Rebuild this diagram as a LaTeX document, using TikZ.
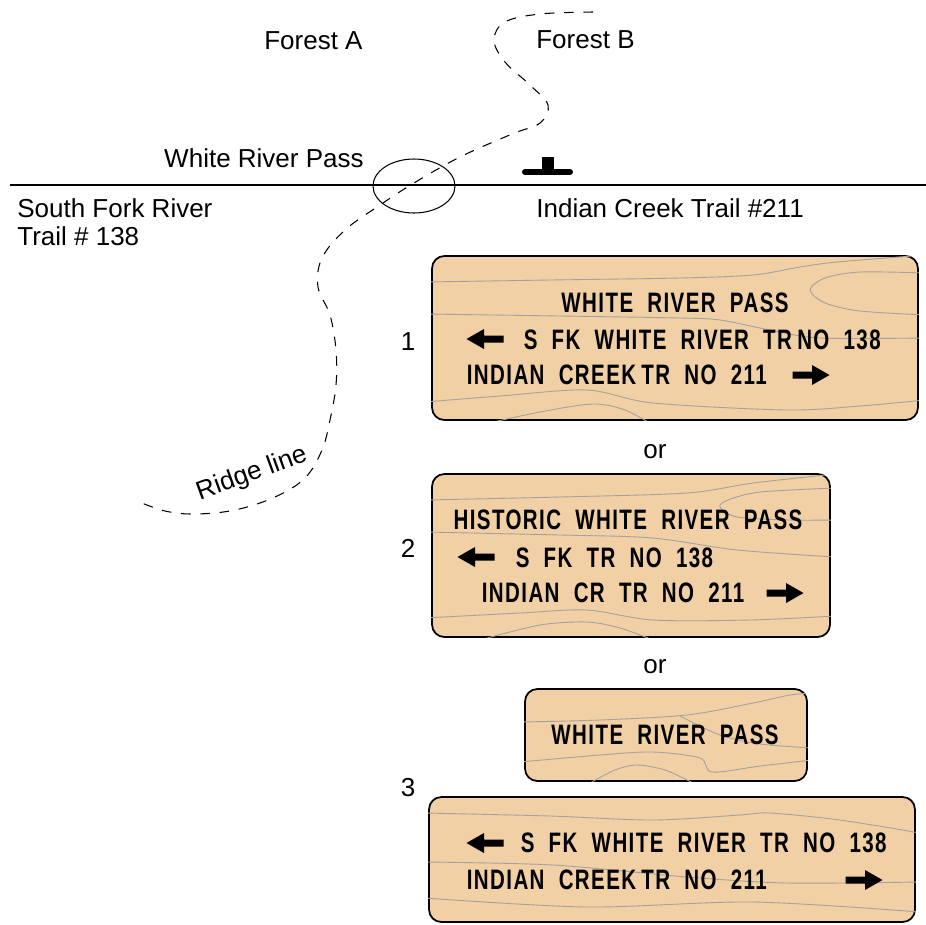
\documentclass[tikz,border=0pt]{standalone}
\usepackage{fontspec}
\setmainfont{Liberation Sans}
\newfontfamily\signfont{Liberation Sans}[FakeStretch=0.73,LetterSpace=5,WordSpace=2]
\usetikzlibrary{shapes.geometric}
\definecolor{signwood}{RGB}{240,208,164}
\definecolor{woodgrain}{RGB}{166,160,158}
\tikzset{
    maplabel/.style = {font=\fontsize{14.8}{16}\selectfont, inner sep=0pt},
    ridge/.style = {dash pattern=on 5.5pt off 5.5pt, line width=0.6pt},
    signboard/.style = {draw, line width=1pt, fill=signwood, rounded corners=7pt, inner sep=0pt},
    grain/.style = {draw=woodgrain, line width=0.5pt},
    signtext/.style = {font=\signfont\bfseries\fontsize{16}{18}\selectfont, inner sep=0pt},
    pics/signarrow/.style = {code={
        \fill (-18.5,-3.5) -- (1,-3.5) -- (1,-10) -- (18.5,0) -- (1,10) -- (1,3.5) -- (-18.5,3.5) -- cycle;}},
}

\begin{document}
\begin{tikzpicture}[x=0.02cm, y=-0.02cm]
\useasboundingbox (0,0) rectangle (926,924);

% trail, pass and ridge
\coordinate (trailW) at (10,185);
\coordinate (trailE) at (926,185);
\draw[line width=1.4pt] (trailW) -- (trailE);
\node[draw, ellipse, line width=0.6pt, inner sep=0pt, minimum width=1.64cm, minimum height=1.08cm] (pass) at (414,186) {};
\fill (542,157) rectangle (554,171);
\draw[line width=3.4pt, line cap=round] (525,172) -- (570,172);
\draw[ridge] plot[smooth, tension=0.6] coordinates {(593,12) (540,14) (505,22) (494,40) (505,62) (530,85) (548,105) (540,123) (512,134) (460,157) (414,183) (380,205) (345,230) (322,258) (318,287) (330,315) (336,350) (336,385) (330,420) (322,450) (305,478) (275,497) (235,510) (195,514) (165,511) (137,501)};

\node[maplabel, anchor=base west] (forestA) at (264,49) {Forest A};
\node[maplabel, anchor=base west] (forestB) at (536,48) {Forest B};
\node[maplabel, anchor=base east] (passname) at (364,167) {White River Pass};
\node[maplabel, anchor=north west, align=left] (southfork) at (17,198.5) {South Fork River\\Trail \# 138};
\node[maplabel, anchor=base west] (indiancreek) at (536,217) {Indian Creek Trail \#211};
\node[maplabel, rotate=20] (ridgename) at (252,474) {Ridge line};

% sign 1
\node[signboard, minimum width=9.72cm, minimum height=3.28cm] (sign1) at (675,338) {};
\begin{scope}
    \clip[rounded corners=7pt] (sign1.south west) rectangle (sign1.north east);
    \draw[grain] plot[smooth] coordinates {(425,282) (550,280) (680,278) (753,275) (800,267) (837,262) (925,255)};
    \draw[grain] plot[smooth] coordinates {(425,314) (560,316) (680,318) (720,320) (770,330) (820,338) (925,338)};
    \draw[grain] plot[smooth] coordinates {(925,273) (860,272) (825,278) (810,290) (825,303) (860,311) (925,315)};
    \draw[grain] plot[smooth] coordinates {(425,402) (500,396) (587,390) (653,403) (787,410) (860,406) (925,400)};
    \draw[grain] plot[smooth] coordinates {(480,425) (540,412) (593,404) (625,410) (653,425)};
\end{scope}
\node[signtext, anchor=base] (sign1title) at (675,312) {WHITE RIVER PASS};
\pic[xscale=-1] at (485,339) {signarrow};
\node[signtext, anchor=base west] (sign1left) at (523.5,349) {S FK WHITE RIVER TR\kern3pt NO 138};
\node[signtext, anchor=base west] (sign1right) at (466.5,384) {INDIAN CREEK\kern3pt TR NO 211};
\pic at (811,375) {signarrow};
\node[maplabel, anchor=base] (num1) at (408,350) {1};
\node[maplabel, anchor=base] (or1) at (655,458) {or};

% sign 2
\node[signboard, minimum width=7.96cm, minimum height=3.26cm] (sign2) at (631,555.5) {};
\begin{scope}
    \clip[rounded corners=7pt] (sign2.south west) rectangle (sign2.north east);
    \draw[grain] plot[smooth] coordinates {(425,500) (560,497) (687,493) (753,483) (835,474)};
    \draw[grain] plot[smooth] coordinates {(835,488) (760,492) (728,500) (720,507) (737,517) (790,520) (835,520)};
    \draw[grain] plot[smooth] coordinates {(425,532) (560,535) (653,538) (737,550) (835,557)};
    \draw[grain] plot[smooth] coordinates {(425,618) (520,613) (587,610) (653,620) (750,620) (835,616)};
    \draw[grain] plot[smooth] coordinates {(480,640) (540,625) (587,622) (620,628) (653,640)};
\end{scope}
\node[signtext, anchor=base] (sign2title) at (628,529) {HISTORIC WHITE RIVER PASS};
\pic[xscale=-1] at (476,557) {signarrow};
\node[signtext, anchor=base west] (sign2left) at (515.5,567) {S FK TR NO 138};
\node[signtext, anchor=base west] (sign2right) at (481.5,602) {INDIAN CR TR NO 211};
\pic at (785,593) {signarrow};
\node[maplabel, anchor=base] (num2) at (408,557) {2};
\node[maplabel, anchor=base] (or2) at (655,673) {or};

% sign 3, two boards
\node[signboard, minimum width=5.64cm, minimum height=1.84cm] (sign3top) at (666,735) {};
\begin{scope}
    \clip[rounded corners=7pt] (sign3top.south west) rectangle (sign3top.north east);
    \draw[grain] plot[smooth] coordinates {(520,722) (600,720) (687,715) (753,703) (790,695) (812,693)};
    \draw[grain] plot[smooth] coordinates {(680,716) (720,735) (760,744) (812,748)};
    \draw[grain] plot[smooth] coordinates {(520,762) (600,755) (653,752) (700,758) (712,772) (760,766) (812,760)};
    \draw[grain] plot[smooth] coordinates {(590,783) (615,770) (637,765) (665,770) (693,783)};
\end{scope}
\node[signtext, anchor=base] (sign3title) at (665,744) {WHITE RIVER PASS};

\node[signboard, minimum width=9.72cm, minimum height=2.5cm] (sign3low) at (672,859.5) {};
\begin{scope}
    \clip[rounded corners=7pt] (sign3low.south west) rectangle (sign3low.north east);
    \draw[grain] plot[smooth] coordinates {(425,813) (550,816) (653,820) (740,815) (770,813) (840,820) (920,833)};
    \draw[grain] plot[smooth] coordinates {(425,862) (553,865) (687,877) (787,883) (920,882)};
    \draw[grain] plot[smooth] coordinates {(425,898) (587,907) (753,902) (920,912)};
\end{scope}
\pic[xscale=-1] at (485,843) {signarrow};
\node[signtext, anchor=base west] (sign3left) at (520.5,852) {S FK WHITE RIVER TR NO 138};
\node[signtext, anchor=base west] (sign3right) at (466.5,889) {INDIAN CREEK\kern3pt TR NO 211};
\pic at (864,880) {signarrow};
\node[maplabel, anchor=base] (num3) at (408,796) {3};
\end{tikzpicture}
\end{document}
